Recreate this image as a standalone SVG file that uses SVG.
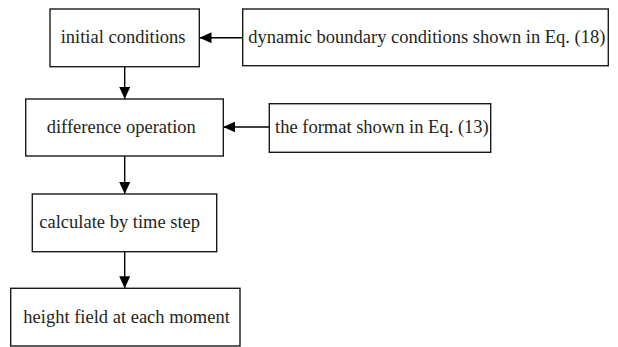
<svg xmlns="http://www.w3.org/2000/svg" width="618" height="347" viewBox="0 0 618 347">
<defs>
<style>
.box{fill:#fff;stroke:#1a1a1a;stroke-width:1.4}
.lbl{font-family:"Liberation Serif","Times New Roman",serif;font-size:18.5px;fill:#231f20}
.ln{stroke:#000;stroke-width:1.4;fill:none}
</style>
<marker id="ah" viewBox="0 0 12 11" refX="12" refY="5.5" markerWidth="12" markerHeight="11" markerUnits="userSpaceOnUse" orient="auto">
<path d="M0,0 L12,5.5 L0,11 Z" fill="#000"/>
</marker>
</defs>
<rect width="618" height="347" fill="#fff"/>
<g id="connectors">
<line class="ln" x1="242.7" y1="37.7" x2="199.5" y2="37.7" marker-end="url(#ah)"/>
<line class="ln" x1="124.7" y1="66.7" x2="124.7" y2="99" marker-end="url(#ah)"/>
<line class="ln" x1="269.3" y1="127" x2="223.3" y2="127" marker-end="url(#ah)"/>
<line class="ln" x1="124.7" y1="156" x2="124.7" y2="194" marker-end="url(#ah)"/>
<line class="ln" x1="124.7" y1="251.7" x2="124.7" y2="288.3" marker-end="url(#ah)"/>
</g>
<g id="n1">
<rect class="box" x="50" y="9" width="149.3" height="57.7"/>
<text class="lbl" x="60.7" y="43">initial conditions</text>
</g>
<g id="n2">
<rect class="box" x="242.7" y="9" width="365.6" height="56.7"/>
<text class="lbl" x="248.3" y="42.7">dynamic boundary conditions shown in Eq. (18)</text>
</g>
<g id="n3">
<rect class="box" x="25.7" y="99" width="197.6" height="57"/>
<text class="lbl" x="46.7" y="132.7">difference operation</text>
</g>
<g id="n4">
<rect class="box" x="269.3" y="103.7" width="221.4" height="48.6"/>
<text class="lbl" x="275" y="132.7">the format shown in Eq. (13)</text>
</g>
<g id="n5">
<rect class="box" x="32.3" y="194" width="184.4" height="57.7"/>
<text class="lbl" x="39.3" y="228.3">calculate by time step</text>
</g>
<g id="n6">
<rect class="box" x="10.7" y="288.3" width="229.3" height="57.7"/>
<text class="lbl" x="23.3" y="323.3">height field at each moment</text>
</g>
</svg>
